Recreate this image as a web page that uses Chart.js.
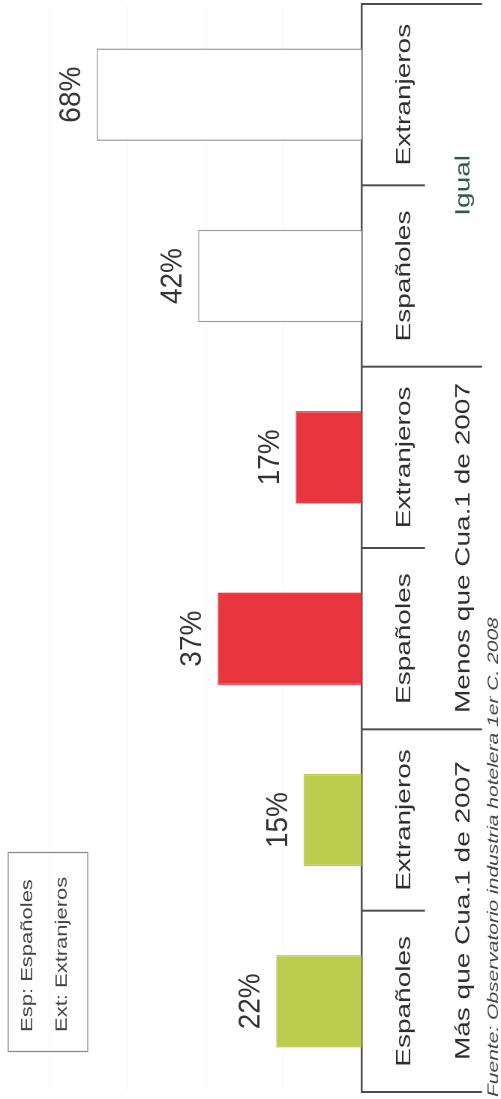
<!DOCTYPE html>
<html>
<head>
<meta charset="utf-8">
<script src="https://cdn.jsdelivr.net/npm/chart.js@4"></script>
<style>
  html, body { margin: 0; padding: 0; background: #fff; overflow: hidden; width: 501px; height: 1099px; }
  #wrap { position: absolute; left: 0; top: 0; width: 1099px; height: 668px; transform-origin: 0 0;
          transform: matrix(0, -1, 0.75, 0, 0, 1099); }
</style>
</head>
<body>
<div id="wrap"><canvas id="c" width="1099" height="668"></canvas></div>
<script>
const categories = ['Españoles', 'Extranjeros', 'Españoles', 'Extranjeros', 'Españoles', 'Extranjeros'];
const groups = ['Más que Cua.1 de 2007', 'Menos que Cua.1 de 2007', 'Igual'];
const values = [22, 15, 37, 17, 42, 68];
const valueLabels = ['22%', '15%', '37%', '17%', '42%', '68%'];
const barFill = ['#bccd4e', '#bccd4e', '#e9353d', '#e9353d', '#ffffff', '#ffffff'];
const barEdge = ['#bccd4e', '#bccd4e', '#e9353d', '#e9353d', '#9a9a9a', '#9a9a9a'];
const yTicks = [0, 20, 40, 60, 80];
const legendLines = ['Esp: Españoles', 'Ext: Extranjeros'];
const sourceText = 'Fuente: Observatorio industria hotelera 1er C. 2008';

const FONT = '"Liberation Sans", Arial, sans-serif';

const decor = {
  id: 'decor',
  afterDraw(chart) {
    const ctx = chart.ctx;
    const xs = chart.scales.x;
    const area = chart.chartArea;
    const base = area.bottom;
    const p = i => xs.getPixelForValue(i);
    const half = (p(1) - p(0)) / 2;
    ctx.save();
    // separator lines of the category table
    ctx.strokeStyle = '#4d4d4d';
    ctx.lineWidth = 2;
    for (let k = 0; k <= categories.length; k++) {
      const ux = k < categories.length ? p(k) - half : p(categories.length - 1) + half;
      const len = (k % 2 === 0) ? 160 : 84;
      ctx.beginPath();
      ctx.moveTo(ux, base);
      ctx.lineTo(ux, base + len);
      ctx.stroke();
    }
    // category labels
    ctx.fillStyle = '#2e2e2e';
    ctx.font = '28px ' + FONT;
    ctx.textAlign = 'center';
    ctx.textBaseline = 'alphabetic';
    categories.forEach((c, i) => ctx.fillText(c, p(i), base + 64));
    // group labels
    groups.forEach((g, j) => {
      ctx.fillStyle = g === 'Igual' ? '#2e5a4c' : '#2e2e2e';
      ctx.fillText(g, (p(2 * j) + p(2 * j + 1)) / 2, base + 143);
    });
    // value labels
    ctx.fillStyle = '#333';
    ctx.font = '28px ' + FONT;
    const meta = chart.getDatasetMeta(0);
    meta.data.forEach((bar, i) => {
      ctx.save();
      ctx.translate(bar.x, bar.y - 22);
      ctx.scale(1, 1.45);
      ctx.fillText(valueLabels[i], 0, 0);
      ctx.restore();
    });
    // source
    ctx.font = 'italic 21px ' + FONT;
    ctx.textAlign = 'left';
    ctx.fillStyle = '#444';
    ctx.fillText(sourceText, 2, 664);
    // legend box
    ctx.strokeStyle = '#8a8a8a';
    ctx.lineWidth = 1.3;
    ctx.strokeRect(47.5, 11, 199, 106);
    ctx.font = '22px ' + FONT;
    ctx.fillStyle = '#444';
    ctx.fillText(legendLines[0], 67, 43);
    ctx.fillText(legendLines[1], 67, 89);
    ctx.restore();
  }
};

new Chart(document.getElementById('c'), {
  type: 'bar',
  data: {
    labels: categories,
    datasets: [{
      data: values,
      backgroundColor: barFill,
      borderColor: barEdge,
      borderWidth: 1.5,
      barPercentage: 0.51,
      categoryPercentage: 1
    }]
  },
  options: {
    responsive: false,
    animation: false,
    devicePixelRatio: 1,
    layout: { padding: { left: 7, right: 4, top: 66.7, bottom: 0 } },
    plugins: { legend: { display: false }, tooltip: { enabled: false } },
    scales: {
      x: {
        offset: true,
        grid: { display: false },
        ticks: { display: false },
        border: { display: true, color: '#4d4d4d', width: 2.6 },
        afterFit: s => { s.height = 185.3; }
      },
      y: {
        min: 0, max: 80,
        afterBuildTicks: s => { s.ticks = yTicks.map(v => ({ value: v })); },
        ticks: { display: false },
        grid: { color: '#f4f4f4', drawTicks: false, lineWidth: 1 },
        border: { display: false },
        afterFit: s => { s.width = 0; }
      }
    }
  },
  plugins: [decor]
});
</script>
</body>
</html>
